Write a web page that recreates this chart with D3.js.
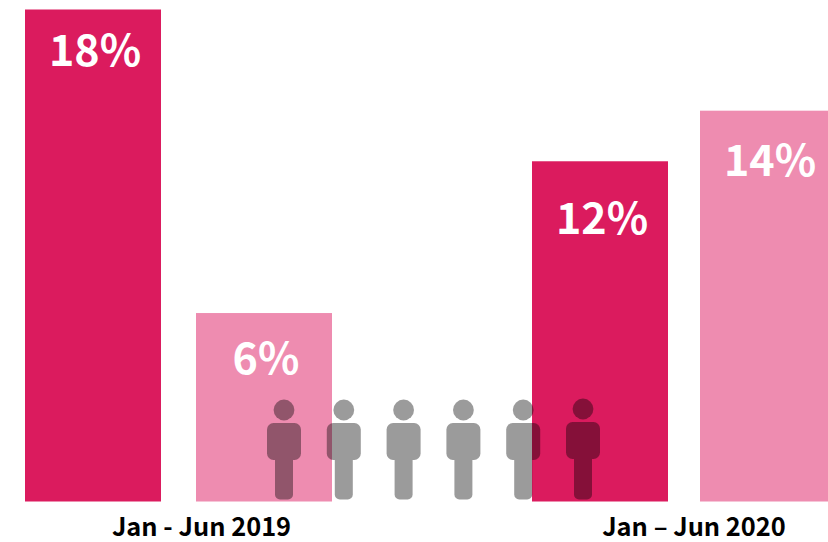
<!DOCTYPE html>
<html>
<head>
<meta charset="utf-8">
<style>
  html, body { margin: 0; padding: 0; background: #fff; overflow: hidden; }
  text { font-family: "Noto Sans CJK JP", "Noto Sans", sans-serif; }
</style>
<script src="https://cdn.jsdelivr.net/npm/d3@7"></script>
</head>
<body>
<script>
const periods = ["Jan - Jun 2019", "Jan – Jun 2020"];
const seriesNames = ["first", "second"];
const values2019 = [18, 6];
const values2020 = [12, 14];
const peopleCount = [0, 1, 2, 3, 4, 5];

const width = 828, height = 542, baseline = 501.5;
const seriesColor = d3.scaleOrdinal(seriesNames, ["#db1b5e", "#ee8cb0"]);

const svg = d3.select("body").append("svg")
  .attr("width", width).attr("height", height)
  .style("display", "block");

// The value axis is hidden and its floor sits slightly below zero.
const y = d3.scaleLinear().domain([-1.45, 18]).range([baseline, 9.5]);

// Each period holds a pair of bars.
const inner = {
  [periods[0]]: d3.scaleBand(seriesNames, [25, 332]).paddingInner(35 / 171),
  [periods[1]]: d3.scaleBand(seriesNames, [532, 836]).paddingInner(32 / 168)
};
const rows = [
  ...values2019.map((v, i) => ({ period: periods[0], series: seriesNames[i], value: v })),
  ...values2020.map((v, i) => ({ period: periods[1], series: seriesNames[i], value: v }))
];

svg.selectAll("rect.bar").data(rows).join("rect")
  .attr("class", "bar")
  .attr("x", d => inner[d.period](d.series))
  .attr("width", d => inner[d.period].bandwidth())
  .attr("y", d => y(d.value))
  .attr("height", d => baseline - y(d.value))
  .attr("fill", d => seriesColor(d.series));

// Distance from a bar's top down to the baseline of its label.
const labelDrop = new Map([[18, 56.5], [6, 61], [12, 72.5], [14, 65]]);

svg.selectAll("text.value").data(rows).join("text")
  .attr("class", "value")
  .attr("x", d => inner[d.period](d.series) + inner[d.period].bandwidth() / 2 + 2)
  .attr("y", d => y(d.value) + labelDrop.get(d.value))
  .attr("text-anchor", "middle")
  .attr("fill", "#fff")
  .attr("font-size", 43)
  .attr("font-weight", 700)
  .text(d => d.value + "%");

// Row of figures standing across the bars.
const figureX = d3.scalePoint(peopleCount, [284, 583]);
const figures = svg.selectAll("g.figure").data(peopleCount).join("g")
  .attr("class", "figure")
  .attr("opacity", 0.39)
  .attr("fill", "#000");
figures.append("circle")
  .attr("cx", d => figureX(d))
  .attr("cy", (d, i) => i === 5 ? 409 : 410)
  .attr("r", 10.4);
figures.append("rect")
  .attr("x", d => figureX(d) - 17)
  .attr("y", (d, i) => i === 5 ? 422 : 423)
  .attr("width", 34)
  .attr("height", 37)
  .attr("rx", 6.5);
figures.append("rect")
  .attr("x", d => figureX(d) - 9)
  .attr("y", 450)
  .attr("width", 18)
  .attr("height", 49.5)
  .attr("rx", 5);

svg.selectAll("text.period").data(periods).join("text")
  .attr("class", "period")
  .attr("x", (d, i) => i === 0 ? 201.5 : 694)
  .attr("y", (d, i) => i === 0 ? 536.4 : 535.8)
  .attr("text-anchor", "middle")
  .attr("fill", "#000")
  .attr("font-size", 25.4)
  .attr("font-weight", 700)
  .text(d => d);
</script>
</body>
</html>
